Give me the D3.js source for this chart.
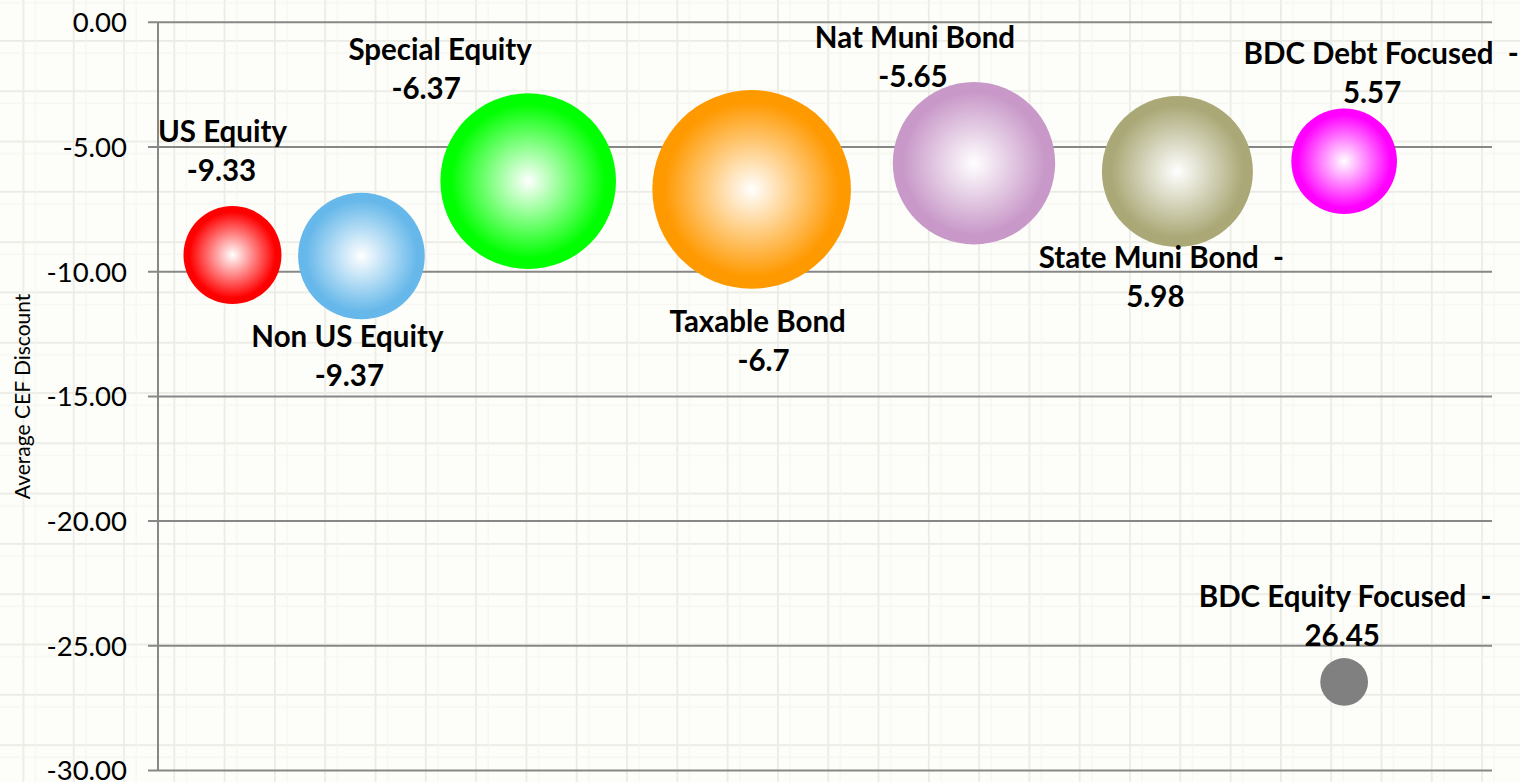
<!DOCTYPE html>
<html>
<head>
<meta charset="utf-8">
<script src="https://cdn.jsdelivr.net/npm/d3@7"></script>
<style>
  html, body { margin: 0; padding: 0; background: #fdfdf9; }
  svg { display: block; font-family: Lato, 'Open Sans', sans-serif; }
  .lbl text { white-space: pre; }
</style>
</head>
<body>
<svg id="chart" width="1520" height="782"></svg>
<script>
// data
const categories = ['US Equity', 'Non US Equity', 'Special Equity', 'Taxable Bond',
                    'Nat Muni Bond', 'State Muni Bond', 'BDC Debt Focused', 'BDC Equity Focused']
const xValues = [0.67, 1.83, 3.33, 5.34, 7.34, 9.17, 10.67, 10.67]
const discounts = [-9.33, -9.37, -6.37, -6.7, -5.65, -5.98, -5.57, -26.45]
const sizes = [24.0, 40.1, 77.1, 98.6, 65.9, 57.0, 27.9, 5.7]
const labelLines = [
  ['US Equity', '-9.33'],
  ['Non US Equity', '-9.37'],
  ['Special Equity', '-6.37'],
  ['Taxable Bond', '-6.7'],
  ['Nat Muni Bond', '-5.65'],
  ['State Muni Bond  -', '5.98'],
  ['BDC Debt Focused  -', '5.57'],
  ['BDC Equity Focused  -', '26.45']
]
const yTicks = [0, -5, -10, -15, -20, -25, -30]

// look
const colors = ['#ff0000', '#66b8ea', '#00ff00', '#ff9900', '#c898c8', '#aaa876', '#ff00ff', '#808080']
const flat = [false, false, false, false, false, false, false, true]
// label placement relative to bubble centre: [dx line1, dx line2, dy baseline line1]
const labelOffsets = [
  [-10, -11, -113],
  [-14, -12, 91],
  [-88, -102, -121],
  [6, 12, 143],
  [-59, -61, -115],
  [-16, -22, 97],
  [37, 28, -97],
  [1, -2, -75]
]

const W = 1520, H = 782
const plot = { left: 158, right: 1492, top: 22.3, bottom: 770.5 }

const svg = d3.select('#chart')

// paper texture
const defs = svg.append('defs')
const pat = defs.append('pattern')
  .attr('id', 'paper')
  .attr('patternUnits', 'userSpaceOnUse')
  .attr('x', 22.5).attr('y', 40)
  .attr('width', 50.3).attr('height', 50.3)
pat.append('rect').attr('width', 50.3).attr('height', 50.3).attr('fill', '#fdfdf9')
pat.append('path').attr('d', 'M0.75,0V50.3M0,0.75H50.3')
  .attr('stroke', '#ebebe5').attr('stroke-width', 1.8).attr('fill', 'none')
pat.append('path').attr('d', 'M13,0V50.3M0,13H50.3')
  .attr('stroke', '#f6f6f0').attr('stroke-width', 1).attr('fill', 'none')
svg.append('rect').attr('width', W).attr('height', H).attr('fill', 'url(#paper)')

const x = d3.scaleLinear().domain([0, 12]).range([plot.left, plot.right])
const y = d3.scaleLinear().domain([0, -30]).range([plot.top, plot.bottom])
const r = d3.scaleSqrt().domain([0, d3.max(sizes)]).range([0, 99.3])

// gradients
colors.forEach((c, i) => {
  const g = defs.append('radialGradient').attr('id', 'grad' + i)
    .attr('cx', '50%').attr('cy', '50%').attr('r', '50%')
  g.append('stop').attr('offset', '0%').attr('stop-color', '#ffffff')
  g.append('stop').attr('offset', '88%').attr('stop-color', c)
  g.append('stop').attr('offset', '100%').attr('stop-color', c)
})

// gridlines + axis
const grid = svg.append('g')
grid.selectAll('line.h').data(yTicks).join('line')
  .attr('x1', plot.left - 10).attr('x2', plot.right)
  .attr('y1', d => y(d)).attr('y2', d => y(d))
  .attr('stroke', '#878787').attr('stroke-width', 2)
grid.append('line')
  .attr('x1', plot.left).attr('x2', plot.left)
  .attr('y1', y(0)).attr('y2', y(-30))
  .attr('stroke', '#878787').attr('stroke-width', 2)

svg.append('g').attr('font-size', 27.5).attr('fill', '#000').attr('text-anchor', 'end')
  .selectAll('text').data(yTicks).join('text')
  .attr('x', 127).attr('y', d => y(d)).attr('dy', '0.36em')
  .text(d => d3.format('.2f')(d).replace('−', '-'))

svg.append('text')
  .attr('transform', `translate(30,${(plot.top + plot.bottom) / 2}) rotate(-90)`)
  .attr('text-anchor', 'middle').attr('font-size', 21).attr('fill', '#000')
  .text('Average CEF Discount')

// bubbles
const idx = d3.range(categories.length)
svg.append('g').selectAll('circle').data(idx).join('circle')
  .attr('cx', i => x(xValues[i]))
  .attr('cy', i => y(discounts[i]))
  .attr('r', i => r(sizes[i]))
  .attr('fill', i => flat[i] ? colors[i] : `url(#grad${i})`)

// data labels
const lab = svg.append('g').attr('class', 'lbl').attr('font-size', 29.5).attr('font-weight', 'bold')
  .attr('fill', '#000').attr('text-anchor', 'middle')
idx.forEach(i => {
  const cx = x(xValues[i]), cy = y(discounts[i])
  const [dx1, dx2, dy] = labelOffsets[i]
  lab.append('text').attr('x', cx + dx1).attr('y', cy + dy).text(labelLines[i][0])
  lab.append('text').attr('x', cx + dx2).attr('y', cy + dy + 39).text(labelLines[i][1])
})
</script>
</body>
</html>
